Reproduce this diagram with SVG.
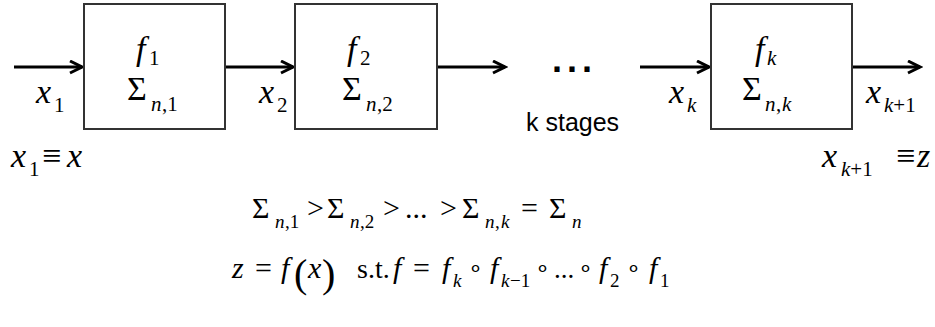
<svg xmlns="http://www.w3.org/2000/svg" width="935" height="327" viewBox="0 0 935 327">
<style>
.box{fill:#fff;stroke:#333;stroke-width:2}
.arr{stroke:#000;stroke-width:3;fill:none}
.m{font-family:"Liberation Serif","Times New Roman",serif;font-size:34px;fill:#000}
.i{font-style:italic}
.n{font-style:normal}
.s{font-size:21px}
.b{font-family:"Liberation Serif","Times New Roman",serif;font-size:30px;fill:#000}
.bs{font-size:19px}
.o{font-size:24px}
.sans{font-family:"Liberation Sans",Arial,sans-serif;fill:#000}
</style>
<defs>
<marker id="ah" markerWidth="16" markerHeight="16" refX="13" refY="7" orient="auto" markerUnits="userSpaceOnUse">
<path d="M1,1 L13,7 L1,13" fill="none" stroke="#000" stroke-width="3"/>
</marker>
</defs>
<g id="connectors">
<line class="arr" x1="14" y1="67" x2="82" y2="67" marker-end="url(#ah)"/>
<line class="arr" x1="226" y1="67" x2="293" y2="67" marker-end="url(#ah)"/>
<line class="arr" x1="438" y1="67" x2="505" y2="67" marker-end="url(#ah)"/>
<line class="arr" x1="640" y1="67" x2="709" y2="67" marker-end="url(#ah)"/>
<line class="arr" x1="853" y1="67" x2="920" y2="67" marker-end="url(#ah)"/>
</g>
<g id="stage1">
<rect class="box" x="84" y="4" width="141" height="125"/>
<text class="m i" x="136" y="60">f<tspan class="s n" x="149" y="65">1</tspan></text>
<text class="m" x="127" y="100">Σ<tspan class="s i" x="151" y="111">n</tspan><tspan class="s" x="162" y="111">,1</tspan></text>
</g>
<g id="stage2">
<rect class="box" x="295" y="4" width="142" height="125"/>
<text class="m i" x="347" y="60">f<tspan class="s n" x="360" y="65">2</tspan></text>
<text class="m" x="342" y="100">Σ<tspan class="s i" x="366" y="111">n</tspan><tspan class="s" x="377" y="111">,2</tspan></text>
</g>
<g id="stagek">
<rect class="box" x="711" y="4" width="141" height="125"/>
<text class="m i" x="755" y="60">f<tspan class="s" x="767" y="65">k</tspan></text>
<text class="m" x="742" y="100">Σ<tspan class="s i" x="765" y="111">n</tspan><tspan class="s" x="776" y="111">,</tspan><tspan class="s i" x="782" y="111">k</tspan></text>
</g>
<g id="labels">
<text class="m i" x="36" y="103">x<tspan class="s n" x="54" y="112">1</tspan></text>
<text class="m i" x="259" y="103">x<tspan class="s n" x="277" y="112">2</tspan></text>
<text class="m i" x="669" y="103">x<tspan class="s" x="687" y="112">k</tspan></text>
<text class="m i" x="866" y="103">x<tspan class="s" x="884" y="112">k</tspan><tspan class="s n">+1</tspan></text>
<text class="m i" x="11" y="167">x<tspan class="s n" x="29" y="176">1</tspan><tspan class="n" x="42" y="167">≡</tspan><tspan x="67" y="167">x</tspan></text>
<text class="m i" x="822" y="167">x<tspan class="s" x="841" y="176">k</tspan><tspan class="s n">+1</tspan><tspan class="n" x="896" y="167">≡</tspan><tspan x="917" y="167">z</tspan></text>
<text class="sans" x="552" y="72" font-size="36" font-weight="bold" letter-spacing="5">...</text>
<text class="sans" x="526" y="131" font-size="25">k stages</text>
</g>
<g id="formulas">
<text class="b">
<tspan x="252" y="218">Σ</tspan><tspan class="bs i" x="275" y="228">n</tspan><tspan class="bs" x="285" y="228">,1</tspan>
<tspan x="307" y="218">&gt;</tspan>
<tspan x="327" y="218">Σ</tspan><tspan class="bs i" x="350" y="228">n</tspan><tspan class="bs" x="360" y="228">,2</tspan>
<tspan x="383" y="218">&gt;</tspan>
<tspan x="405" y="218">...</tspan>
<tspan x="440" y="218">&gt;</tspan>
<tspan x="462" y="218">Σ</tspan><tspan class="bs i" x="485" y="228">n</tspan><tspan class="bs" x="495" y="228">,</tspan><tspan class="bs i" x="501" y="228">k</tspan>
<tspan x="521" y="218">=</tspan>
<tspan x="549" y="218">Σ</tspan><tspan class="bs i" x="572" y="228">n</tspan>
</text>
<text class="b">
<tspan class="i" x="232" y="278">z</tspan>
<tspan x="255" y="278">=</tspan>
<tspan class="i" x="281" y="278">f</tspan>
<tspan x="294" y="287" font-size="40">(</tspan>
<tspan class="i" x="308" y="278">x</tspan>
<tspan x="322" y="287" font-size="40">)</tspan>
<tspan x="357" y="278" font-size="28">s.t.</tspan>
<tspan class="i" x="393" y="278">f</tspan>
<tspan x="413" y="278">=</tspan>
<tspan class="i" x="442" y="278">f</tspan><tspan class="bs i" x="453" y="287">k</tspan>
<tspan class="o" x="468" y="276">∘</tspan>
<tspan class="i" x="490" y="278">f</tspan><tspan class="bs i" x="501" y="287">k</tspan><tspan class="bs" x="510" y="287">−1</tspan>
<tspan class="o" x="535" y="276">∘</tspan>
<tspan x="554" y="278" font-size="27">...</tspan>
<tspan class="o" x="578" y="276">∘</tspan>
<tspan class="i" x="599" y="278">f</tspan><tspan class="bs" x="610" y="287">2</tspan>
<tspan class="o" x="626" y="276">∘</tspan>
<tspan class="i" x="649" y="278">f</tspan><tspan class="bs" x="660" y="287">1</tspan>
</text>
</g>
</svg>
